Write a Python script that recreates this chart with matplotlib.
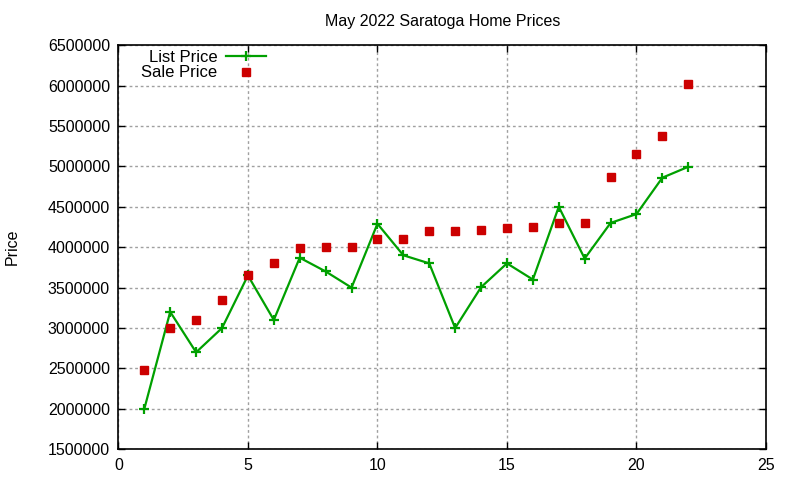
import matplotlib
matplotlib.use("Agg")
import matplotlib.pyplot as plt

# listings, numbered 1..22
listing = list(range(1, 23))
list_price = [2000000, 3200000, 2700000, 3000000, 3650000, 3100000, 3870000,
              3700000, 3500000, 4290000, 3900000, 3800000, 3000000, 3505000,
              3800000, 3600000, 4500000, 3860000, 4300000, 4410000, 4860000,
              4995000]
sale_price = [2480000, 3005000, 3100000, 3350000, 3655000, 3810000, 3995000,
              4005000, 4005000, 4100000, 4100000, 4200000, 4200000, 4215000,
              4235000, 4250000, 4300000, 4300000, 4870000, 5155000, 5380000,
              6015000]

plt.rcParams['font.family'] = ['Liberation Sans', 'DejaVu Sans']

fig = plt.figure(figsize=(8, 4.8), dpi=100)
ax = fig.add_axes([0.148, 0.064, 0.8095, 0.842])

ax.plot(listing, list_price, color='#00a000', lw=1.6, marker='+', ms=7, mew=1.6,
        label='List Price', zorder=3)
ax.plot(listing, sale_price, ls='none', color='#cc0000', marker='s', ms=6,
        label='Sale Price', zorder=3)

ax.set_xlim(0, 25)
ax.set_ylim(1500000, 6500000)
ax.set_xticks(range(0, 26, 5))
ax.set_yticks(range(1500000, 6500001, 500000))
ax.ticklabel_format(style='plain', useOffset=False)
ax.tick_params(direction='in', top=True, right=True, length=5, width=1,
               labelsize=11.5, pad=6)
ax.grid(True, color='#a0a0a0', ls=(0, (2, 2)), lw=1)
for s in ax.spines.values():
    s.set_linewidth(1.2)

ax.set_title('May 2022 Saratoga Home Prices', fontsize=11.5, pad=14)
ax.set_ylabel('Price', fontsize=11.5, labelpad=20)

leg = ax.legend(loc='upper left', bbox_to_anchor=(0.017, 1.018), frameon=False,
                markerfirst=False, fontsize=12, handlelength=2.4,
                handletextpad=0.55, labelspacing=0.05, borderaxespad=0.3)

fig.savefig('out.png', dpi=100)
